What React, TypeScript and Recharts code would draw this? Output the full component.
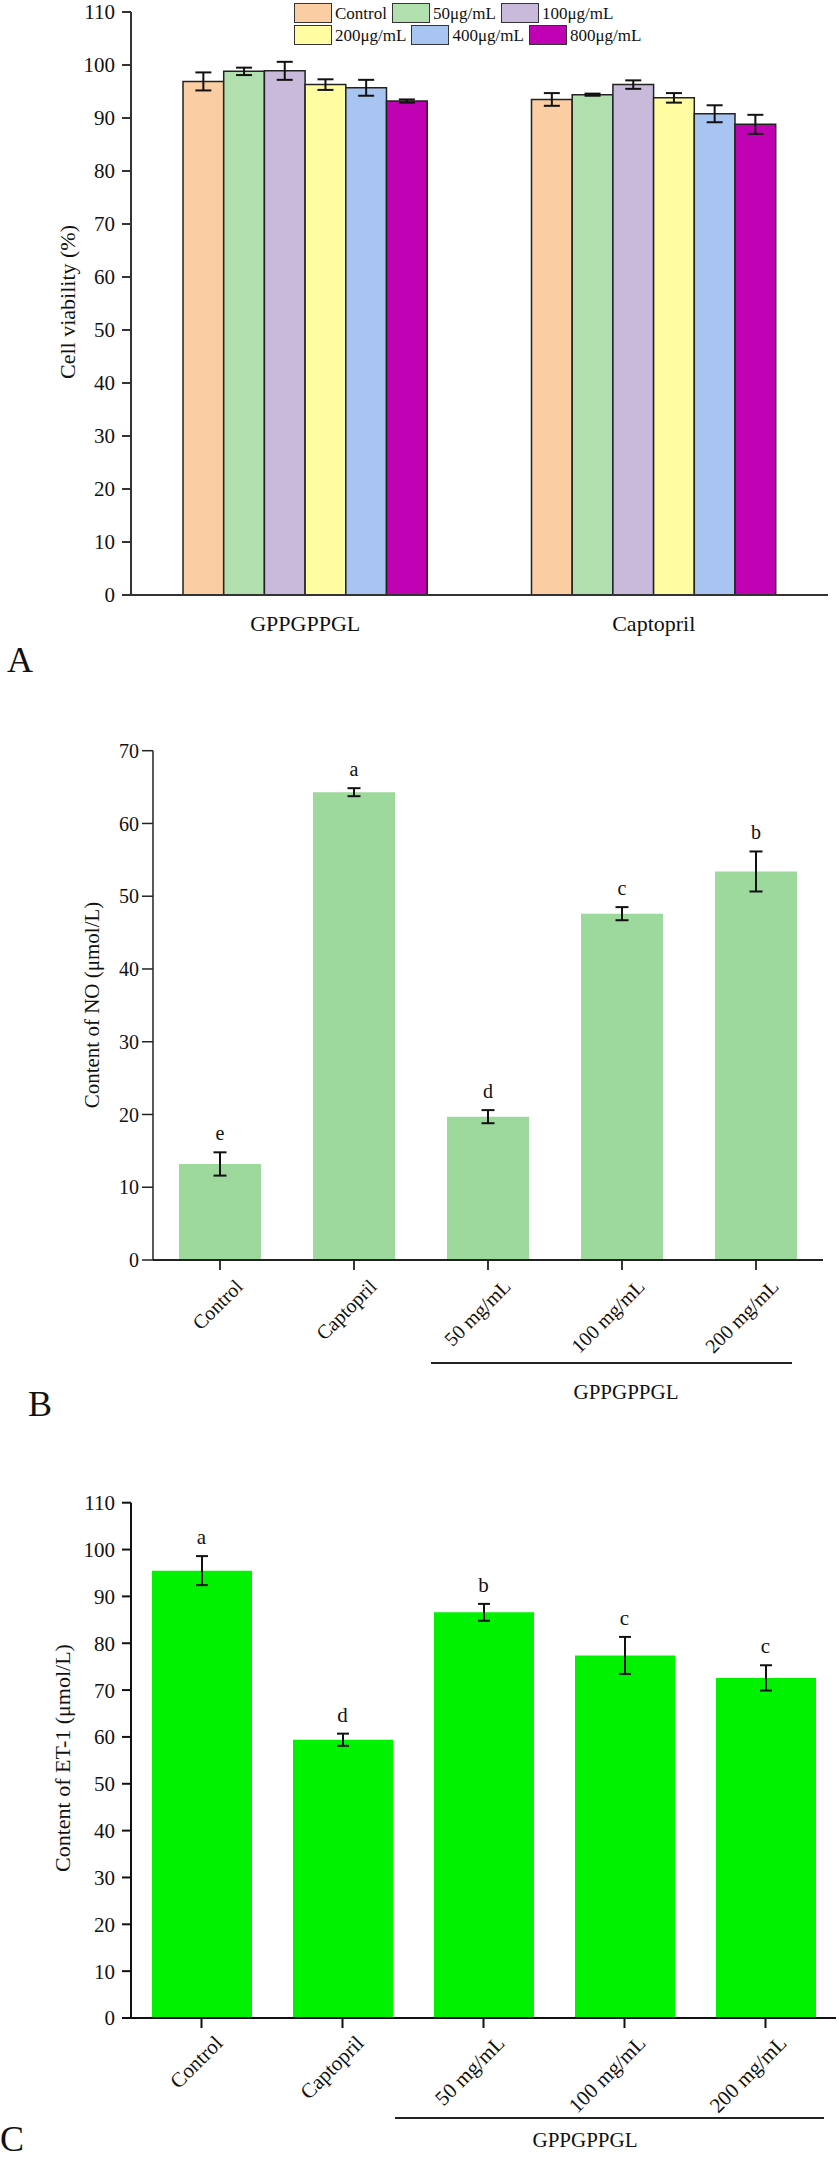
import React from 'react';
import { BarChart, ComposedChart, Bar, Line, XAxis, YAxis, ErrorBar, LabelList } from 'recharts';

const FONT = "'Liberation Serif', 'Times New Roman', serif";

// Panel A: cell viability
const viabilityGroups = ['GPPGPPGL', 'Captopril'];
const doseNames = ['Control', '50μg/mL', '100μg/mL', '200μg/mL', '400μg/mL', '800μg/mL'];
const doseColors = ['#FACDA2', '#B1DFAE', '#C9BADB', '#FFFCA2', '#A8C4F1', '#C000B3'];
const gppViability = [96.9, 98.8, 98.9, 96.3, 95.7, 93.2];
const gppViabilityErr = [1.7, 0.7, 1.7, 1.0, 1.5, 0.3];
const capViability = [93.5, 94.4, 96.3, 93.8, 90.8, 88.8];
const capViabilityErr = [1.2, 0.2, 0.8, 0.9, 1.6, 1.8];
const viabilityTicks = [0, 10, 20, 30, 40, 50, 60, 70, 80, 90, 100, 110];

// Panel B: NO content
const treatmentNames = ['Control', 'Captopril', '50 mg/mL', '100 mg/mL', '200 mg/mL'];
const noMeans = [13.2, 64.3, 19.7, 47.6, 53.4];
const noErrs = [1.6, 0.55, 0.9, 0.9, 2.75];
const noLetters = ['e', 'a', 'd', 'c', 'b'];
const noTicks = [0, 10, 20, 30, 40, 50, 60, 70];

// Panel C: ET-1 content
const et1Means = [95.5, 59.4, 86.6, 77.4, 72.6];
const et1Errs = [3.1, 1.3, 1.8, 3.95, 2.7];
const et1Letters = ['a', 'd', 'b', 'c', 'c'];
const et1Ticks = [0, 10, 20, 30, 40, 50, 60, 70, 80, 90, 100, 110];

const viabilityData = viabilityGroups.map((g, gi) => {
  const means = gi === 0 ? gppViability : capViability;
  const errs = gi === 0 ? gppViabilityErr : capViabilityErr;
  const row: Record<string, any> = { group: g };
  means.forEach((m, i) => {
    row['d' + i] = m;
    row['e' + i] = errs[i];
  });
  return row;
});

const noData = treatmentNames.map((name, i) => ({
  name,
  value: noMeans[i],
  err: noErrs[i],
  top: noMeans[i] + noErrs[i],
  letter: noLetters[i],
}));

const et1Data = treatmentNames.map((name, i) => ({
  name,
  value: et1Means[i],
  err: et1Errs[i],
  top: et1Means[i] + et1Errs[i],
  letter: et1Letters[i],
}));

function SlantTick(props: any) {
  const { x, y, payload, fontSize, shift } = props;
  return (
    <g transform={`translate(${x + shift},${y})`}>
      <text
        x={0}
        y={0}
        dy="0.7em"
        textAnchor="end"
        transform="rotate(-45)"
        fontSize={fontSize}
        fontFamily={FONT}
        fill="#111"
      >
        {payload.value}
      </text>
    </g>
  );
}

function Centered({ x, y, size, rotate, children }: any) {
  return (
    <div
      style={{
        position: 'absolute',
        left: x,
        top: y,
        transform: `translate(-50%, -50%)${rotate ? ' rotate(-90deg)' : ''}`,
        fontSize: size,
        fontFamily: FONT,
        lineHeight: 1,
        whiteSpace: 'nowrap',
        color: '#111',
      }}
    >
      {children}
    </div>
  );
}

function Bracket({ x1, x2, y }: any) {
  return (
    <div style={{ position: 'absolute', left: x1, top: y - 1, width: x2 - x1, height: 2, background: '#222' }} />
  );
}

function DoseLegend() {
  const rows = [doseNames.slice(0, 3), doseNames.slice(3)];
  return (
    <div style={{ position: 'absolute', left: 294, top: 2, fontFamily: FONT, fontSize: 17, color: '#111' }}>
      {rows.map((row, ri) => (
        <div key={ri} style={{ display: 'flex', alignItems: 'center', height: 22 }}>
          {row.map((name, k) => {
            const idx = ri * 3 + k;
            return (
              <div key={name} style={{ display: 'flex', alignItems: 'center', marginRight: 5 }}>
                <div
                  style={{
                    width: 36,
                    height: 18,
                    background: doseColors[idx],
                    border: '1.5px solid #333',
                    marginRight: 3,
                  }}
                />
                <span style={{ lineHeight: 1 }}>{name}</span>
              </div>
            );
          })}
        </div>
      ))}
    </div>
  );
}

export default function App() {
  return (
    <div style={{ position: 'absolute', left: 0, top: 0, width: 839, height: 2158, background: '#fff' }}>
      {/* A */}
      <div style={{ position: 'absolute', left: 0, top: 0 }}>
        <BarChart width={839} height={700} data={viabilityData} margin={{ top: 12, right: 11, left: 61, bottom: 65 }} barGap={0}>
          <XAxis
            dataKey="group"
            height={40}
            tickLine={false}
            tickMargin={14}
            axisLine={{ stroke: '#333', strokeWidth: 2 }}
            tick={{ fontSize: 22, fontFamily: FONT, fill: '#111' }}
          />
          <YAxis
            width={70}
            domain={[0, 110]}
            ticks={viabilityTicks}
            interval={0}
            tickSize={9}
            tickMargin={7}
            axisLine={{ stroke: '#333', strokeWidth: 2 }}
            tickLine={{ stroke: '#333', strokeWidth: 2 }}
            tick={{ fontSize: 21, fontFamily: FONT, fill: '#111' }}
          />
          {doseNames.map((name, i) => (
            <Bar key={name} dataKey={'d' + i} name={name} fill={doseColors[i]} stroke="#222" strokeWidth={1.5} barSize={40.7} isAnimationActive={false}>
              <ErrorBar dataKey={'e' + i} width={8} stroke="#111" strokeWidth={2} direction="y" isAnimationActive={false} />
            </Bar>
          ))}
        </BarChart>
      </div>
      <DoseLegend />
      <Centered x={68} y={302} size={22} rotate>Cell viability (%)</Centered>
      <Centered x={20} y={660} size={36}>A</Centered>

      {/* B */}
      <div style={{ position: 'absolute', left: 0, top: 700 }}>
        <ComposedChart width={839} height={700} data={noData} margin={{ top: 50.7, right: 16, left: 73, bottom: 40 }}>
          <XAxis
            dataKey="name"
            height={100}
            interval={0}
            tickSize={10}
            tickMargin={8}
            axisLine={{ stroke: '#222', strokeWidth: 1.8 }}
            tickLine={{ stroke: '#222', strokeWidth: 1.8 }}
            tick={<SlantTick fontSize={20} shift={14} />}
          />
          <YAxis
            width={80}
            domain={[0, 70]}
            ticks={noTicks}
            interval={0}
            tickSize={11}
            tickMargin={3}
            axisLine={{ stroke: '#222', strokeWidth: 1.5 }}
            tickLine={{ stroke: '#222', strokeWidth: 1.5 }}
            tick={{ fontSize: 20, fontFamily: FONT, fill: '#111' }}
          />
          <Bar dataKey="value" fill="#9DD89C" barSize={82} isAnimationActive={false}>
            <ErrorBar dataKey="err" width={6.5} stroke="#111" strokeWidth={2} direction="y" isAnimationActive={false} />
          </Bar>
          <Line dataKey="top" stroke="none" dot={false} activeDot={false} legendType="none" isAnimationActive={false}>
            <LabelList dataKey="letter" position="top" offset={12} fontSize={20} fontFamily={FONT} fill="#111" />
          </Line>
        </ComposedChart>
      </div>
      <Centered x={92} y={1005} size={21} rotate>Content of NO (μmol/L)</Centered>
      <Bracket x1={431} x2={792} y={1363} />
      <Centered x={626} y={1392} size={21}>GPPGPPGL</Centered>
      <Centered x={40} y={1404} size={36}>B</Centered>

      {/* C */}
      <div style={{ position: 'absolute', left: 0, top: 1400 }}>
        <ComposedChart width={839} height={758} data={et1Data} margin={{ top: 102.7, right: 3, left: 61, bottom: 40 }}>
          <XAxis
            dataKey="name"
            height={100}
            interval={0}
            tickSize={10}
            tickMargin={6}
            axisLine={{ stroke: '#111', strokeWidth: 2 }}
            tickLine={{ stroke: '#111', strokeWidth: 2 }}
            tick={<SlantTick fontSize={21} shift={12} />}
          />
          <YAxis
            width={70}
            domain={[0, 110]}
            ticks={et1Ticks}
            interval={0}
            tickSize={9}
            tickMargin={7}
            axisLine={{ stroke: '#111', strokeWidth: 2 }}
            tickLine={{ stroke: '#111', strokeWidth: 2 }}
            tick={{ fontSize: 21, fontFamily: FONT, fill: '#111' }}
          />
          <Bar dataKey="value" fill="#00F200" barSize={100} isAnimationActive={false}>
            <ErrorBar dataKey="err" width={6} stroke="#111" strokeWidth={2} direction="y" isAnimationActive={false} />
          </Bar>
          <Line dataKey="top" stroke="none" dot={false} activeDot={false} legendType="none" isAnimationActive={false}>
            <LabelList dataKey="letter" position="top" offset={12} fontSize={21} fontFamily={FONT} fill="#111" />
          </Line>
        </ComposedChart>
      </div>
      <Centered x={63} y={1758} size={22} rotate>Content of ET-1 (μmol/L)</Centered>
      <Bracket x1={395} x2={824} y={2118} />
      <Centered x={585} y={2140} size={21}>GPPGPPGL</Centered>
      <Centered x={12} y={2139} size={36}>C</Centered>
    </div>
  );
}
